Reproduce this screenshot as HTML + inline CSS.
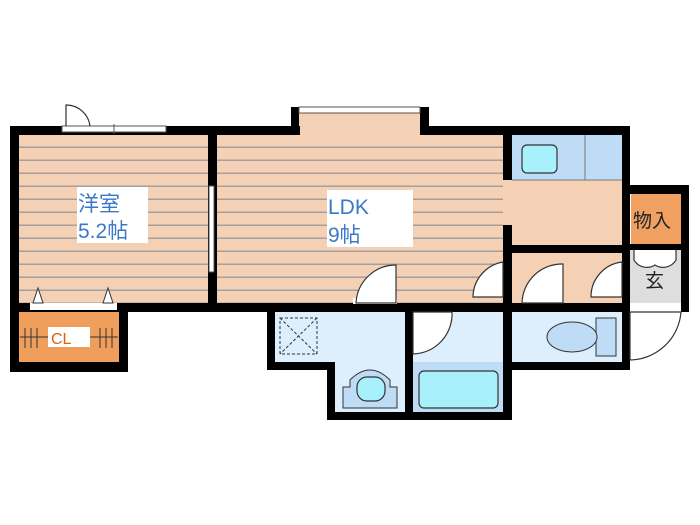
<!DOCTYPE html>
<html><head><meta charset="utf-8"><style>
html,body{margin:0;padding:0;background:#fff;}
svg{display:block;}
text{font-family:"Liberation Sans","Noto Sans CJK JP",sans-serif;}
</style></head><body>
<svg width="700" height="525" viewBox="0 0 700 525" xmlns="http://www.w3.org/2000/svg">
<defs>
<pattern id="fl" x="0" y="135" width="10" height="13" patternUnits="userSpaceOnUse">
<rect width="10" height="13" fill="#f4d1b4"/>
<rect y="11.5" width="10" height="1.5" fill="#a4a0a0"/>
</pattern>
</defs>
<rect x="19" y="135" width="190" height="168" fill="url(#fl)"/>
<rect x="216" y="135" width="288" height="168" fill="url(#fl)"/>
<rect x="299" y="113" width="121" height="22" fill="#f4d1b4"/>
<rect x="503" y="180" width="120" height="66" fill="#f4d1b4"/>
<rect x="512" y="253" width="110" height="50" fill="#f4d1b4"/>
<rect x="512" y="135" width="110" height="45" fill="#bfdcf6"/>
<line x1="585" y1="135" x2="585" y2="180" stroke="#777" stroke-width="1"/>
<line x1="512" y1="180" x2="622" y2="180" stroke="#777" stroke-width="1"/>
<rect x="522" y="145" width="35" height="28" rx="5" fill="#a8f0fc" stroke="#333" stroke-width="1.2"/>
<rect x="631" y="194" width="50" height="50" fill="#f0a060"/>
<rect x="630" y="250" width="51" height="53" fill="#dedede"/>
<rect x="19" y="312" width="101" height="50" fill="#ef9e5c"/>
<rect x="275" y="312" width="130" height="58" fill="#ddeefc"/>
<rect x="335" y="370" width="70" height="42" fill="#ddeefc"/>
<rect x="413" y="312" width="90" height="100" fill="#ddeefc"/>
<rect x="413" y="362" width="90" height="50" fill="#bfdcf6"/>
<rect x="419" y="371" width="79" height="37" rx="5" fill="#a8f0fc" stroke="#333" stroke-width="1.2"/>
<rect x="512" y="312" width="110" height="50" fill="#ddeefc"/>
<g fill="#000">
<rect x="10" y="126" width="9" height="246"/>
<rect x="10" y="126" width="203" height="9"/>
<rect x="208" y="126" width="9" height="186"/>
<rect x="208" y="126" width="92" height="9"/>
<rect x="291" y="107" width="8" height="28"/>
<rect x="420" y="107" width="9" height="28"/>
<rect x="420" y="126" width="210" height="9"/>
<rect x="622" y="126" width="8" height="186"/>
<rect x="503" y="126" width="9" height="54"/>
<rect x="503" y="225" width="9" height="195"/>
<rect x="503" y="245" width="127" height="8"/>
<rect x="630" y="185" width="59" height="9"/>
<rect x="681" y="185" width="8" height="127"/>
<rect x="630" y="244" width="51" height="6"/>
<rect x="10" y="303" width="620" height="9"/>
<rect x="10" y="362" width="118" height="10"/>
<rect x="119" y="303" width="9" height="69"/>
<rect x="267" y="303" width="8" height="67"/>
<rect x="267" y="362" width="68" height="8"/>
<rect x="327" y="362" width="8" height="58"/>
<rect x="327" y="412" width="185" height="8"/>
<rect x="405" y="303" width="8" height="117"/>
<rect x="503" y="362" width="127" height="8"/>
<rect x="622" y="303" width="8" height="67"/>
</g>
<rect x="62" y="126" width="104" height="6" fill="#fff" stroke="#555" stroke-width="1"/>
<line x1="114" y1="124" x2="114" y2="134" stroke="#555"/>
<path d="M66 126 V105 A24 24 0 0 1 90 126" fill="none" stroke="#333" stroke-width="1.2"/>
<rect x="299" y="107" width="121" height="6" fill="#fff" stroke="#555" stroke-width="1"/>
<rect x="209" y="186" width="5" height="86" fill="#fff" stroke="#555" stroke-width="1"/>
<rect x="30" y="303" width="87" height="7" fill="#fff"/>
<path d="M33 303 L38 288 L43 303 Z M103 303 L108 288 L113 303Z" fill="#fff" stroke="#333"/>
<g stroke="#333" stroke-width="1">
<line x1="20" y1="337" x2="118" y2="337"/>
<line x1="25" y1="328" x2="25" y2="348"/><line x1="31" y1="328" x2="31" y2="348"/><line x1="37" y1="328" x2="37" y2="348"/>
<line x1="100" y1="328" x2="100" y2="348"/><line x1="106" y1="328" x2="106" y2="348"/><line x1="112" y1="328" x2="112" y2="348"/>
</g>
<rect x="48" y="327" width="42" height="20" fill="#fff"/>
<text x="51" y="344" font-size="16" fill="#e06010">CL</text>
<rect x="353" y="298" width="44" height="6" fill="#fff"/>
<g fill="#fff" stroke="#333" stroke-width="1.2">
<path d="M396 303 V265 A40 40 0 0 0 356 303 Z"/>
<path d="M503 262 A36 36 0 0 0 473 297 H503 Z"/>
<path d="M563 303 V264 A40 40 0 0 0 522 303 Z"/>
<path d="M622 262 A35 35 0 0 0 591 297 H622 Z"/>
<path d="M413 312 H452 A40 40 0 0 1 413 354 Z"/>
<path d="M630 312 H681 A52 52 0 0 1 630 360 Z" fill="none"/>
<path d="M634 250 V260 A15 15 0 0 0 655 265 A15 15 0 0 0 676 260 V250" fill="#fff"/>
</g>
<rect x="280" y="318" width="37" height="36" fill="none" stroke="#333" stroke-width="1" stroke-dasharray="3,2"/>
<path d="M280 318 L317 354 M317 318 L280 354" stroke="#333" stroke-width="1" stroke-dasharray="3,2"/>
<path d="M343 408 V387 H350 V380 Q360 370 370 370 Q380 370 390 380 V387 H397 V408 Z" fill="#bfdcf6" stroke="#333"/>
<rect x="357" y="377" width="28" height="24" rx="10" fill="#a8f0fc" stroke="#333" stroke-width="1.2"/>
<rect x="596" y="318" width="20" height="38" fill="#bfdcf6" stroke="#333"/>
<ellipse cx="572" cy="337" rx="25" ry="15" fill="#bfdcf6" stroke="#333"/>
<rect x="77" y="187" width="71" height="56" fill="#fff"/>
<text x="78" y="211" font-size="21" fill="#3a78c8">洋室</text>
<text x="78" y="238" font-size="21" fill="#3a78c8">5.2帖</text>
<rect x="327" y="190" width="86" height="57" fill="#fff"/>
<text x="328" y="214" font-size="21" fill="#3a78c8">LDK</text>
<text x="328" y="242" font-size="21" fill="#3a78c8">9帖</text>
<text x="633" y="227" font-size="19" fill="#222">物入</text>
<text x="645" y="287" font-size="19" fill="#222">玄</text>
</svg>
</body></html>
